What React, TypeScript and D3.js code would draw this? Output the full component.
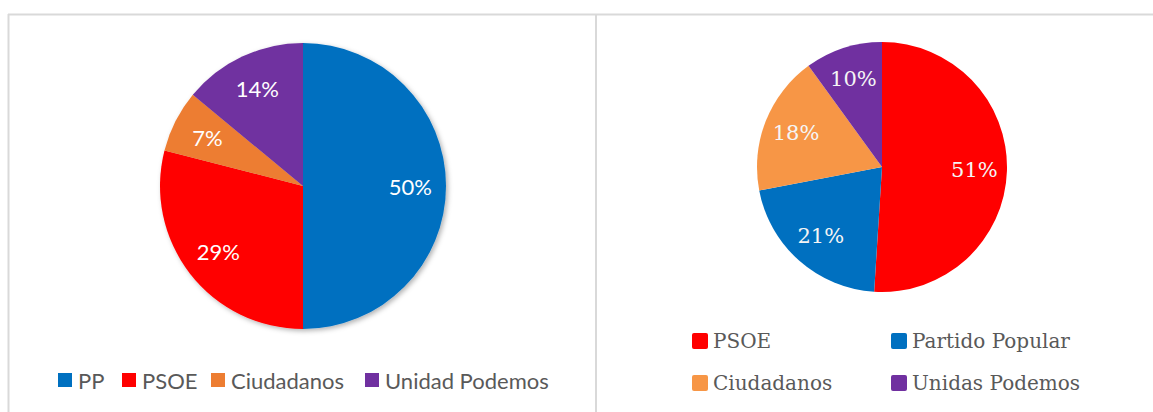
import React from "react";
import * as d3 from "d3";

const leftCategories = ["PP", "PSOE", "Ciudadanos", "Unidad Podemos"];
const leftValues = [50, 29, 7, 14];
const leftColors = ["#0070C0", "#FF0000", "#ED7D31", "#7030A0"];

const rightCategories = ["PSOE", "Partido Popular", "Ciudadanos", "Unidas Podemos"];
const rightValues = [51, 21, 18, 10];
const rightColors = ["#FF0000", "#0070C0", "#F79646", "#7030A0"];

type Datum = { name: string; value: number; color: string };

function buildData(names: string[], values: number[], colors: string[]): Datum[] {
  return names.map((n, i) => ({ name: n, value: values[i], color: colors[i] }));
}

function Pie({ data, cx, cy, r, labelFrac, font, fontSize, labelColor, shadow }: {
  data: Datum[]; cx: number; cy: number; r: number; labelFrac: number; font: string; fontSize: number; labelColor: string; shadow?: boolean;
}) {
  const total = d3.sum(data, (d) => d.value);
  const pie = d3.pie<Datum>().sort(null).value((d) => d.value);
  const arcs = pie(data);
  const arc = d3.arc<d3.PieArcDatum<Datum>>().innerRadius(0).outerRadius(r);
  const labelArc = d3.arc<d3.PieArcDatum<Datum>>().innerRadius(r * labelFrac).outerRadius(r * labelFrac);
  return (
    <g transform={`translate(${cx},${cy})`}>
      <g filter={shadow ? "url(#pieShadow)" : undefined}>
        {arcs.map((a, i) => (
          <path key={i} d={arc(a) || ""} fill={a.data.color} />
        ))}
      </g>
      {arcs.map((a, i) => {
        const [x, y] = labelArc.centroid(a);
        return (
          <text key={i} x={x} y={y} textAnchor="middle" dominantBaseline="central"
            fontFamily={font} fontSize={fontSize} fill={labelColor}>
            {Math.round((a.data.value / total) * 100) + "%"}
          </text>
        );
      })}
    </g>
  );
}

export default function App() {
  const leftData = buildData(leftCategories, leftValues, leftColors);
  const rightData = buildData(rightCategories, rightValues, rightColors);
  const sansFont = "Lato, 'Open Sans', sans-serif";
  const serifFont = "'DejaVu Serif', 'Liberation Serif', serif";

  const leftLegendX = [58, 122, 211, 365];
  const rightLegendX = [692, 891, 692, 891];
  const rightLegendY = [341, 341, 383, 383];

  return (
    <svg width={1153} height={412} style={{ position: "absolute", left: 0, top: 0, background: "#fff" }}>
      <defs>
        <filter id="pieShadow" x="-20%" y="-20%" width="140%" height="140%">
          <feDropShadow dx="2" dy="2" stdDeviation="2.5" floodColor="#000" floodOpacity="0.3" />
        </filter>
      </defs>
      <rect x={0} y={0} width={1153} height={412} fill="#fff" />
      <line x1={8} y1={14.5} x2={1153} y2={14.5} stroke="#d9d9d9" strokeWidth={2} />
      <line x1={8.5} y1={14} x2={8.5} y2={412} stroke="#d9d9d9" strokeWidth={2} />
      <line x1={596} y1={14} x2={596} y2={412} stroke="#d9d9d9" strokeWidth={2} />

      <Pie data={leftData} cx={303} cy={186} r={143} labelFrac={0.75} font={sansFont} fontSize={22} labelColor="#ffffff" shadow />
      <Pie data={rightData} cx={882} cy={167} r={125} labelFrac={0.74} font={serifFont} fontSize={21} labelColor="#f5f5f5" />

      {leftData.map((d, i) => (
        <g key={i}>
          <rect x={leftLegendX[i]} y={373} width={14} height={14} fill={d.color} />
          <text x={leftLegendX[i] + 20} y={380} dominantBaseline="central" fontFamily={sansFont} fontSize={22} fill="#595959">
            {d.name}
          </text>
        </g>
      ))}

      {rightData.map((d, i) => (
        <g key={i}>
          <rect x={rightLegendX[i]} y={rightLegendY[i] - 8} width={16} height={16} rx={2} fill={d.color} />
          <text x={rightLegendX[i] + 21} y={rightLegendY[i]} dominantBaseline="central" fontFamily={serifFont} fontSize={20} fill="#595959">
            {d.name}
          </text>
        </g>
      ))}
    </svg>
  );
}
